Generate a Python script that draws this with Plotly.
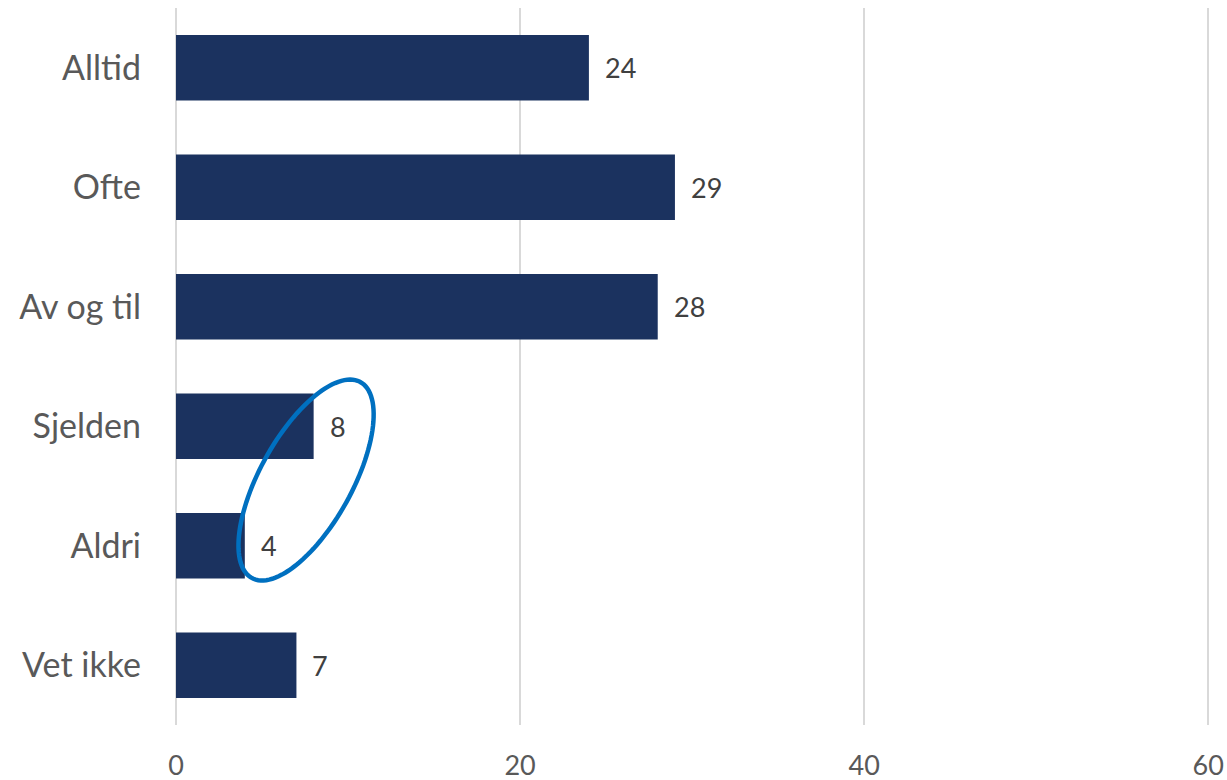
import numpy as np
import plotly.graph_objects as go

categories = ["Alltid", "Ofte", "Av og til", "Sjelden", "Aldri", "Vet ikke"]
values = [24, 29, 28, 8, 4, 7]
x_ticks = [0, 20, 40, 60]

BAR_COLOR = "#1B325F"
FONT = "Lato"

W, H = 1227, 780
x_range = [0, 60.1]
px_per_x = 1032 / 60
plot_w = px_per_x * (x_range[1] - x_range[0])
margin = dict(l=176, r=round(W - 176 - plot_w), t=8, b=55)
plot_h = H - margin["t"] - margin["b"]
n = len(categories)

fig = go.Figure()
fig.add_trace(go.Bar(
    x=values,
    y=list(range(n)),
    orientation="h",
    marker=dict(color=BAR_COLOR, line=dict(width=0)),
    width=0.55,
    hoverinfo="skip",
))

# value labels to the right of each bar
for i, v in enumerate(values):
    fig.add_annotation(
        x=v, y=i, xref="x", yref="y",
        text=str(v), showarrow=False,
        xanchor="left", yanchor="middle", xshift=14,
        font=dict(family=FONT, size=27, color="#404040"),
    )

# highlight ellipse around Sjelden/Aldri, built in pixel space then mapped to data units
px_per_y = plot_h / n
cx, cy = 7.56, 3.45          # centre in data units (y = category index)
a, b = 112, 46               # semi-axes in pixels
theta = np.deg2rad(29)       # tilt of the major axis from vertical
t = np.linspace(0, 2 * np.pi, 120)
ux = b * np.cos(t)
uy = a * np.sin(t)
rx = ux * np.cos(theta) + uy * np.sin(theta)
ry = -ux * np.sin(theta) + uy * np.cos(theta)   # screen-down positive
ex = cx + rx / px_per_x
ey = cy - ry / px_per_y
path = "M " + " L ".join(f"{x:.4f},{y:.4f}" for x, y in zip(ex, ey)) + " Z"
fig.add_shape(type="path", path=path, xref="x", yref="y",
              line=dict(color="#0070C0", width=4.5), fillcolor="rgba(0,0,0,0)")

fig.update_layout(
    width=W, height=H,
    margin=margin,
    paper_bgcolor="white", plot_bgcolor="white",
    showlegend=False,
    font=dict(family=FONT),
    xaxis=dict(
        range=x_range, tickvals=x_ticks, showgrid=True,
        gridcolor="#D9D9D9", gridwidth=1.5,
        zeroline=True, zerolinecolor="#D9D9D9", zerolinewidth=1.5,
        showline=False, ticks="",
        tickfont=dict(family=FONT, size=27, color="#595959"),
        ticklabelstandoff=22,
        automargin=False,
        fixedrange=True,
    ),
    yaxis=dict(
        range=[n - 0.5, -0.5],
        tickvals=list(range(n)), ticktext=categories,
        showgrid=False, zeroline=False, showline=False, ticks="",
        tickfont=dict(family=FONT, size=34, color="#595959"),
        ticklabelstandoff=34,
        automargin=False,
        fixedrange=True,
    ),
)

fig.write_html("out.html", config={"displayModeBar": False})
